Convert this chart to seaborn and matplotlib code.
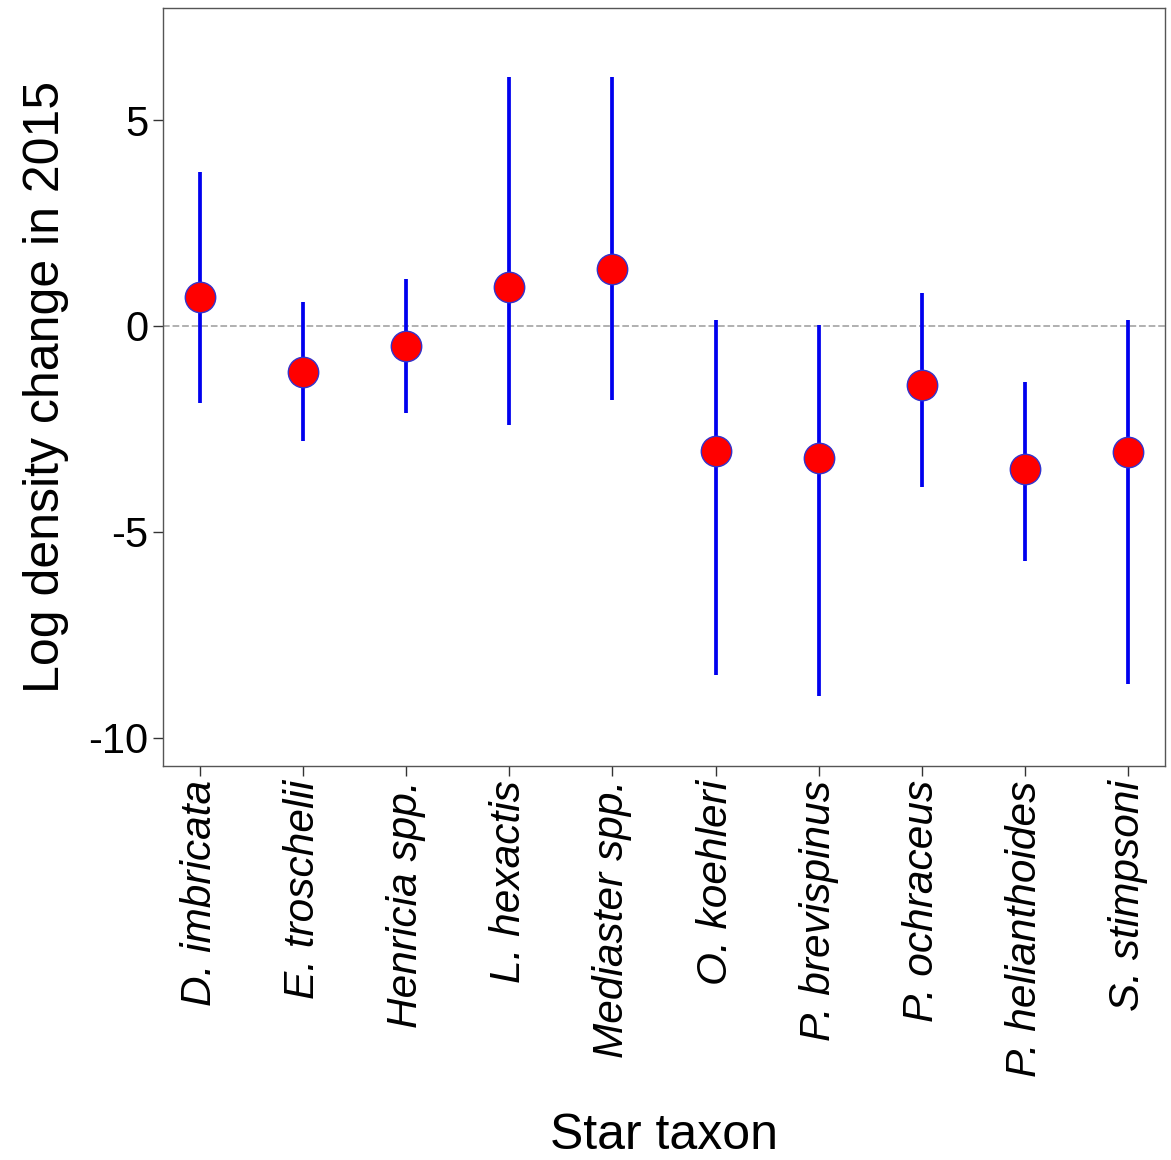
import matplotlib
matplotlib.use('Agg')
import matplotlib.pyplot as plt
import seaborn as sns
import pandas as pd

# Values
taxa = ['D. imbricata', 'E. troschelii', 'Henricia spp.', 'L. hexactis', 'Mediaster spp.',
        'O. koehleri', 'P. brevispinus', 'P. ochraceus', 'P. helianthoides', 'S. stimpsoni']
estimate = [0.70, -1.12, -0.49, 0.95, 1.38, -3.03, -3.20, -1.43, -3.47, -3.06]
upper = [3.74, 0.58, 1.14, 6.04, 6.04, 0.15, 0.02, 0.80, -1.36, 0.15]
lower = [-1.87, -2.79, -2.11, -2.40, -1.80, -8.47, -9.00, -3.91, -5.70, -8.69]

data = pd.DataFrame({'taxon': taxa, 'est': estimate, 'lo': lower, 'hi': upper})
data['pos'] = range(len(taxa))

sns.set_style('white')
plt.rcParams['font.family'] = ['Liberation Sans', 'DejaVu Sans']
plt.rcParams['text.color'] = 'black'
plt.rcParams['axes.labelcolor'] = 'black'
plt.rcParams['xtick.color'] = 'black'
plt.rcParams['ytick.color'] = 'black'

fig = plt.figure(figsize=(11.71, 11.6), dpi=100)
ax = fig.add_axes([0.139, 0.34, 0.856, 0.653])

ax.axhline(0, color='#aaaaaa', linestyle='--', linewidth=1.3, zorder=1)
ax.vlines(data['pos'], data['lo'], data['hi'], color='#0000ee', linewidth=2.7, zorder=2)
sns.scatterplot(data=data, x='pos', y='est', ax=ax, s=480, color='red',
                edgecolor='#3333cc', linewidth=1, zorder=3, legend=False)

ax.set_xlim(-0.36, 9.36)
ax.set_ylim(-10.68, 7.72)
ax.set_xticks(data['pos'])
ax.set_xticklabels(taxa, rotation=90, style='italic', fontsize=30.5)
ax.set_yticks([5, 0, -5, -10])
ax.set_yticklabels(['5', '0', '-5', '-10'], fontsize=30)
ax.tick_params(axis='both', length=7, width=1, direction='out', color='#333333',
               bottom=True, left=True)
ax.set_xlabel('Star taxon', fontsize=36, labelpad=26)
ax.set_ylabel('Log density change in 2015', fontsize=36, labelpad=14)
for s in ax.spines.values():
    s.set_color('#555555')
    s.set_linewidth(1)

fig.savefig('out.png', dpi=100)
